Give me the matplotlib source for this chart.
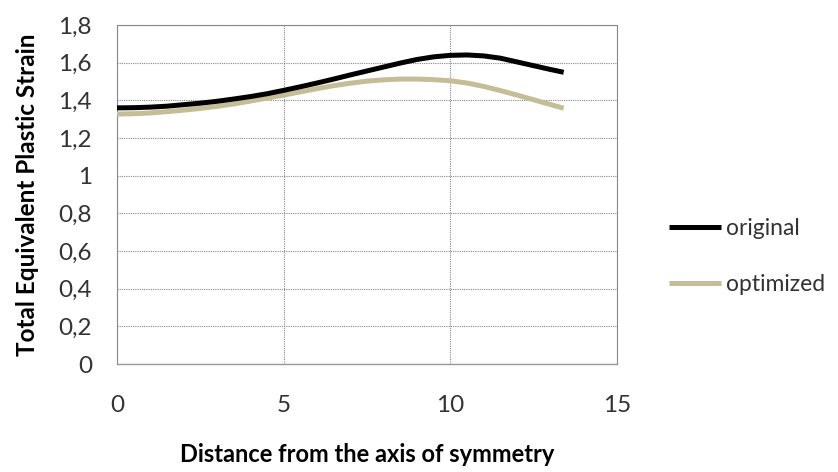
import numpy as np
import matplotlib
matplotlib.use("Agg")
import matplotlib.pyplot as plt

plt.rcParams['font.family'] = ['Lato', 'DejaVu Sans']

# values
x_orig = [0, 0.5, 1, 1.5, 2, 2.5, 3, 3.5, 4, 4.5, 5, 5.5, 6, 6.5, 7, 7.5, 8, 8.5, 9,
          9.5, 10, 10.5, 11, 11.5, 12, 12.5, 13, 13.4]
y_orig = [1.360, 1.361, 1.364, 1.369, 1.377, 1.385, 1.395, 1.407, 1.420, 1.435, 1.453,
          1.472, 1.492, 1.513, 1.535, 1.556, 1.577, 1.598, 1.617, 1.631, 1.639, 1.641,
          1.636, 1.624, 1.604, 1.584, 1.564, 1.549]
x_opt = [0, 0.5, 1, 1.5, 2, 2.5, 3, 3.5, 4, 4.5, 5, 5.5, 6, 6.5, 7, 7.5, 8, 8.5, 9,
         9.5, 10, 10.5, 11, 11.5, 12, 12.5, 13, 13.4]
y_opt = [1.327, 1.329, 1.333, 1.340, 1.348, 1.357, 1.368, 1.381, 1.396, 1.412, 1.428,
         1.445, 1.462, 1.478, 1.491, 1.502, 1.509, 1.513, 1.513, 1.510, 1.504, 1.492,
         1.474, 1.452, 1.428, 1.403, 1.378, 1.358]

x_ticks = [0, 5, 10, 15]
y_ticks = [0, 0.2, 0.4, 0.6, 0.8, 1.0, 1.2, 1.4, 1.6, 1.8]
y_ticklabels = ['0', '0,2', '0,4', '0,6', '0,8', '1', '1,2', '1,4', '1,6', '1,8']

fig = plt.figure(figsize=(8.38, 4.72), dpi=100)
ax = fig.add_axes([0.1396, 0.2288, 0.5967, 0.7182])

ax.plot(x_opt, y_opt, color='#c4bd97', lw=3.6, solid_capstyle='butt',
        solid_joinstyle='round', label='optimized', zorder=3)
ax.plot(x_orig, y_orig, color='black', lw=3.6, solid_capstyle='butt',
        solid_joinstyle='round', label='original', zorder=4)

ax.set_xlim(0, 15)
ax.set_ylim(0, 1.8)
ax.set_xticks(x_ticks)
ax.set_yticks(y_ticks)
ax.set_yticklabels(y_ticklabels)
ax.tick_params(axis='both', length=0, labelsize=17.5, colors='#333333')
ax.tick_params(axis='x', pad=22)
ax.tick_params(axis='y', pad=18)

ax.grid(True, color='#888888', linestyle=(0, (1, 1)), lw=0.8)
for s in ['top', 'right', 'left']:
    ax.spines[s].set_color('#888888')
    ax.spines[s].set_linestyle((0, (1, 1)))
    ax.spines[s].set_linewidth(0.8)
ax.spines['bottom'].set_color('#999999')
ax.spines['bottom'].set_linewidth(1.0)

ax.set_ylabel('Total Equivalent Plastic Strain', fontsize=17.5, fontweight='bold', labelpad=14)
ax.set_xlabel('Distance from the axis of symmetry', fontsize=17, fontweight='bold', labelpad=20)

handles, labels = ax.get_legend_handles_labels()
leg = fig.legend(handles[::-1], labels[::-1], loc='center left', bbox_to_anchor=(0.7736, 0.457),
                 frameon=False, fontsize=16.5, handlelength=2.27, handletextpad=0.2,
                 labelspacing=1.54)
for t in leg.get_texts():
    t.set_color('#333333')

fig.savefig('out.png', dpi=100)
